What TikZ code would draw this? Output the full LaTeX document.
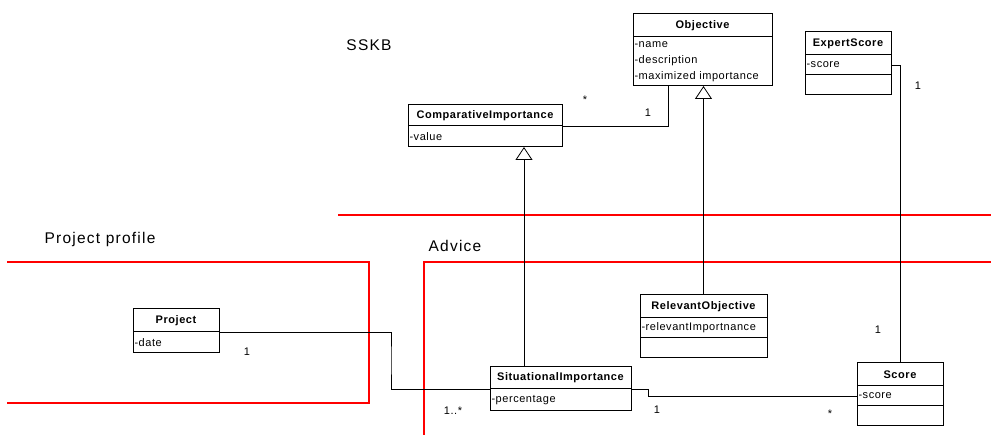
\documentclass[tikz,border=0pt]{standalone}
\usepackage{fontspec}
\setmainfont{Liberation Sans}
\newfontfamily\spacedfont{Liberation Sans}[LetterSpace=5]
\newfontfamily\widefont{Liberation Sans}[LetterSpace=8]
\usetikzlibrary{arrows.meta,calc}

\newcommand{\headfont}{\spacedfont\bfseries\fontsize{11}{12}\selectfont}
\newcommand{\attrfont}{\spacedfont\fontsize{11}{16.3}\selectfont}
\newcommand{\areafont}{\widefont\fontsize{15.5}{17}\selectfont}
\newcommand{\multfont}{\spacedfont\fontsize{11}{12}\selectfont}

\tikzset{
  cls/.style={draw=black, line width=1pt, inner sep=0pt, outer sep=0pt, anchor=north west},
  head/.style={cls, font=\headfont, align=center},
  attr/.style={cls, font=\attrfont, align=left, inner xsep=1.5pt},
  assoc/.style={draw=black, line width=0.8pt},
  gen/.style={assoc, -{Triangle[open, length=13pt, width=17pt, fill=white]}},
  area/.style={draw=red, line width=1.2pt},
  areaname/.style={font=\areafont, inner sep=0pt},
  mult/.style={font=\multfont, inner sep=0pt}
}

\begin{document}
\begin{tikzpicture}[x=1pt, y=-1pt]
  \useasboundingbox (0,0) rectangle (991,435);

  % package boundaries
  \draw[area] (338,215) -- (991,215);
  \draw[area] (7,262) -- (369,262) -- (369,403) -- (7,403);
  \draw[area] (424,435) -- (424,262) -- (991,262);

  \node[areaname] (sskb) at (369,45) {SSKB};
  \node[areaname] (profile) at (100,239) {Project profile};
  \node[areaname] (advice) at (455,246) {Advice};

  % Objective
  \node[head, minimum width=139, minimum height=23] (obj-h) at (633,14) {Objective};
  \node[attr, text width=136, minimum height=49] (obj-a) at (obj-h.south west)
    {-name\\-description\\-maximized importance};

  % ComparativeImportance
  \node[head, minimum width=154, minimum height=21] (ci-h) at (408,105) {ComparativeImportance};
  \node[attr, text width=151, minimum height=21] (ci-a) at (ci-h.south west) {-value};

  % ExpertScore
  \node[head, minimum width=86, minimum height=23] (es-h) at (805,32) {ExpertScore};
  \node[attr, text width=83, minimum height=20] (es-a) at (es-h.south west) {-score};
  \node[attr, text width=83, minimum height=20] (es-e) at (es-a.south west) {};

  % Project
  \node[head, minimum width=86, minimum height=23] (proj-h) at (133,309) {Project};
  \node[attr, text width=83, minimum height=21] (proj-a) at (proj-h.south west) {-date};

  % RelevantObjective
  \node[head, minimum width=127, minimum height=23] (ro-h) at (640,295) {RelevantObjective};
  \node[attr, text width=124, minimum height=20] (ro-a) at (ro-h.south west) {-relevantImportnance};
  \node[attr, text width=124, minimum height=20] (ro-e) at (ro-a.south west) {};

  % SituationalImportance
  \node[head, minimum width=141, minimum height=22] (si-h) at (490,367) {SituationalImportance};
  \node[attr, text width=138, minimum height=22] (si-a) at (si-h.south west) {-percentage};

  % Score
  \node[head, minimum width=86, minimum height=23] (sc-h) at (857,363) {Score};
  \node[attr, text width=83, minimum height=20] (sc-a) at (sc-h.south west) {-score};
  \node[attr, text width=83, minimum height=20] (sc-e) at (sc-a.south west) {};

  % bend points
  \coordinate (ciobj) at ($(obj-a.south west)+(35,0)$);
  \coordinate (gx) at (524,0);
  \coordinate (pj) at (391,360);
  \coordinate (sj) at (648,389);

  % associations
  \draw[assoc] (ci-h.south east) -| (ciobj);
  \draw[assoc] (proj-h.south east) -| (pj) |- (si-h.south west);
  \draw[assoc] (si-h.south east) -- (sj) |- (sc-a.west);
  \draw[assoc] (es-a.east) -| (sc-h.north);

  % generalizations
  \draw[gen] (si-h.north -| gx) -- (ci-a.south -| gx);
  \draw[gen] (ro-h.north) -- (ro-h.north |- obj-a.south);

  % multiplicities
  \node[mult] (m1) at (585,100) {*};
  \node[mult] (m2) at (648,113) {1};
  \node[mult] (m3) at (918,86) {1};
  \node[mult] (m4) at (878,330) {1};
  \node[mult] (m5) at (247,352) {1};
  \node[mult] (m6) at (453,411) {1..*};
  \node[mult] (m7) at (657,410) {1};
  \node[mult] (m8) at (830,414) {*};
\end{tikzpicture}
\end{document}
